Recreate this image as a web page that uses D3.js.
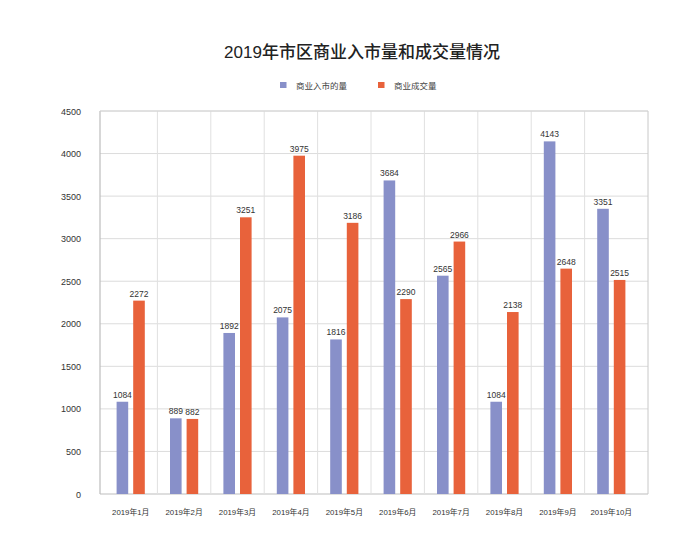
<!DOCTYPE html>
<html><head><meta charset="utf-8">
<script src="https://cdn.jsdelivr.net/npm/d3@7/dist/d3.min.js"></script>
<style>
body{margin:0;background:#fff;}
svg{display:block;font-family:"Liberation Sans","Noto Sans CJK SC",sans-serif;}
</style></head>
<body><svg id="c" width="682" height="549"></svg>
<script>
const title = "2019年市区商业入市量和成交量情况";
const categories = ["2019年1月","2019年2月","2019年3月","2019年4月","2019年5月","2019年6月","2019年7月","2019年8月","2019年9月","2019年10月"];
const seriesNames = ["商业入市的量","商业成交量"];
const supply = [1084, 889, 1892, 2075, 1816, 3684, 2565, 1084, 4143, 3351];
const sales = [2272, 882, 3251, 3975, 3186, 2290, 2966, 2138, 2648, 2515];
const yTicks = [0,500,1000,1500,2000,2500,3000,3500,4000,4500];
const colors = ["#8890c9","#e8623b"];

const svg = d3.select("#c");
const L = 100, R = 648, T = 111, B = 494;
const x = d3.scaleBand().domain(categories).range([104, 638]).padding(0);
const y = d3.scaleLinear().domain([0, 4500]).range([B, T]);
const bw = 11.6, gap = 5;

svg.append("text").attr("x", 362).attr("y", 58).attr("text-anchor","middle")
  .attr("font-size", 17).attr("font-weight", 500).attr("fill","#222").text(title);

// legend
const leg = [{x:280, name:seriesNames[0], c:colors[0]},{x:378, name:seriesNames[1], c:colors[1]}];
leg.forEach(d=>{
  svg.append("rect").attr("x", d.x).attr("y", 82).attr("width", 6.5).attr("height", 6).attr("fill", d.c);
  svg.append("text").attr("x", d.x+16).attr("y", 88.5).attr("font-size", 8.5).attr("fill","#444").text(d.name);
});

// horizontal grid
svg.append("g").selectAll("line").data(yTicks).join("line")
  .attr("x1", L).attr("x2", R).attr("y1", d=>y(d)).attr("y2", d=>y(d))
  .attr("stroke", d=> d===0 ? "#bdbdbd" : "#dcdcdc").attr("stroke-width", 1);
// vertical grid (category boundaries)
svg.append("g").selectAll("line").data(categories.slice(1)).join("line")
  .attr("x1", d=>x(d)).attr("x2", d=>x(d)).attr("y1", T).attr("y2", B)
  .attr("stroke", "#e0e0e0");
// box
svg.append("line").attr("x1",L).attr("x2",L).attr("y1",T).attr("y2",B).attr("stroke","#bdbdbd").attr("stroke-width",1.2);
svg.append("line").attr("x1",R).attr("x2",R).attr("y1",T).attr("y2",B).attr("stroke","#c8c8c8");
svg.append("line").attr("x1",L).attr("x2",R).attr("y1",T).attr("y2",T).attr("stroke","#d4d4d4");

// y labels
svg.append("g").selectAll("text").data(yTicks).join("text")
  .attr("x", 81).attr("y", d=>y(d)+3.5).attr("text-anchor","end")
  .attr("font-size", 9).attr("fill","#333").text(d=>d);

// x labels
svg.append("g").selectAll("text").data(categories).join("text")
  .attr("x", d=>x(d)+x.bandwidth()/2).attr("y", 515).attr("text-anchor","middle")
  .attr("font-size", 7.8).attr("fill","#333").text(d=>d);

const series = [supply, sales];
series.forEach((vals, si)=>{
  const g = svg.append("g");
  const off = si===0 ? -(gap/2+bw) : gap/2;
  g.selectAll("rect").data(vals).join("rect")
    .attr("x", (d,i)=>x(categories[i])+x.bandwidth()/2+off)
    .attr("width", bw)
    .attr("y", d=>y(d)).attr("height", d=>B-y(d))
    .attr("fill", colors[si]);
  g.selectAll("text").data(vals).join("text")
    .attr("x", (d,i)=>x(categories[i])+x.bandwidth()/2+off+bw/2)
    .attr("y", d=>y(d)-4).attr("text-anchor","middle")
    .attr("font-size", 8.5).attr("fill","#333").text(d=>d);
});
</script></body></html>
